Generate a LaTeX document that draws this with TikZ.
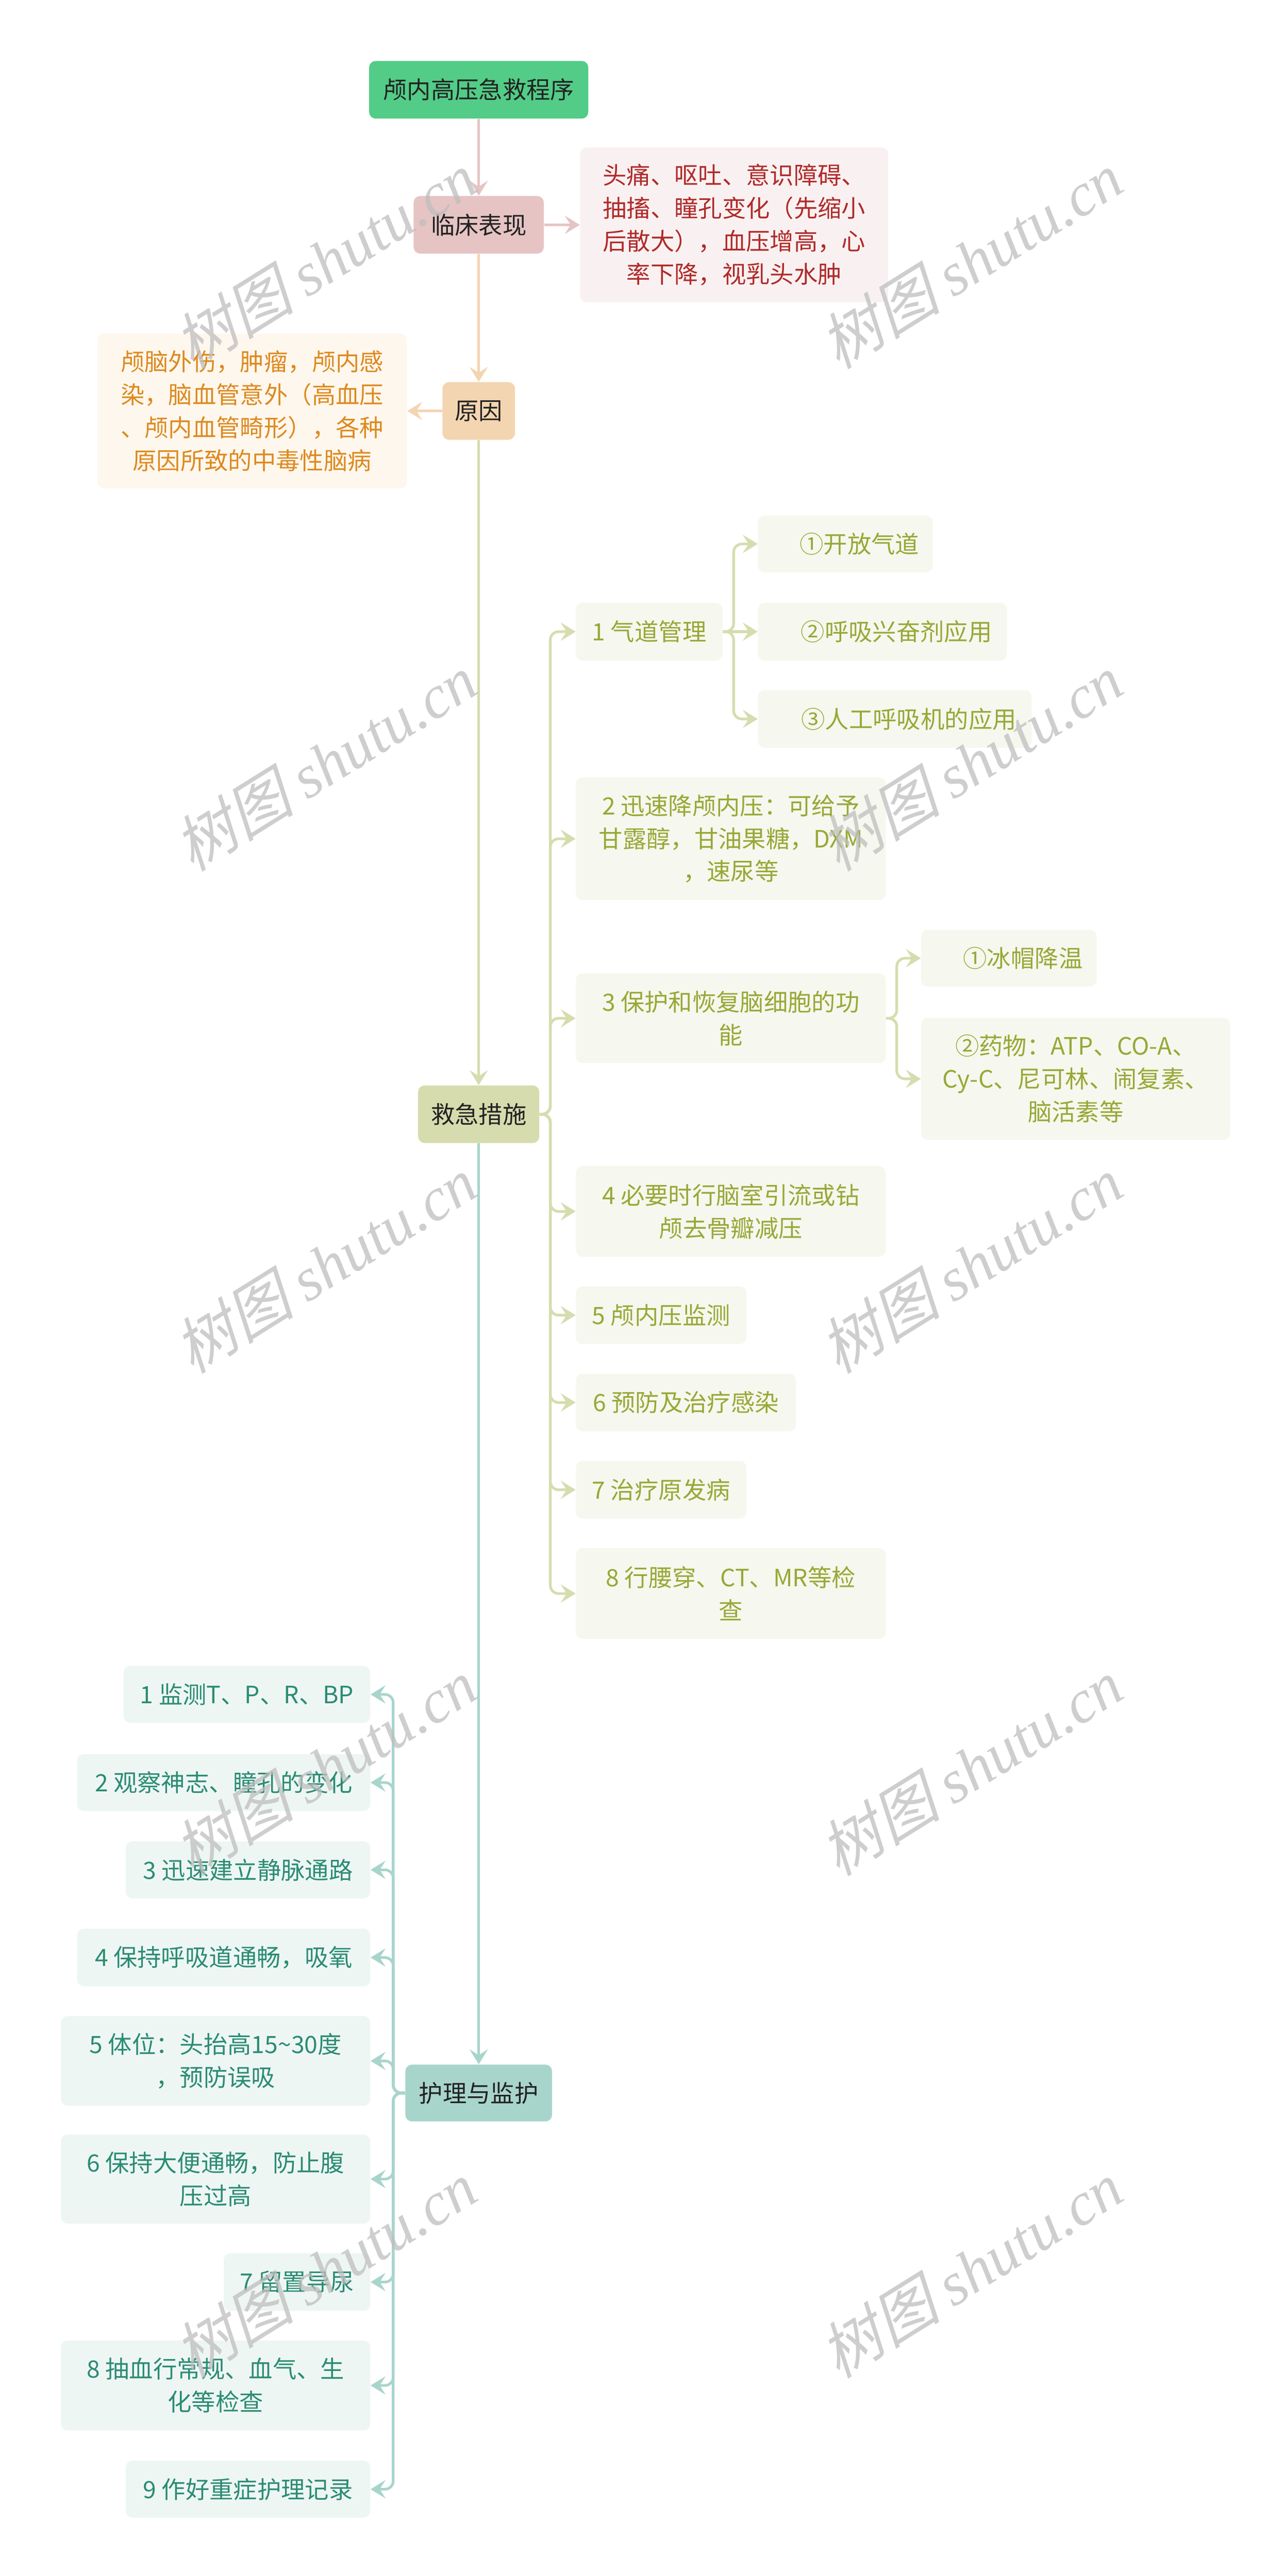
\documentclass[tikz,border=0pt]{standalone}
\usepackage{fontspec}
\setmainfont{Noto Sans CJK SC}
\newfontfamily\wmcjk[FakeSlant=0.25]{Noto Sans CJK SC}
\newfontfamily\wmlat{Liberation Serif}
\usetikzlibrary{arrows.meta}
\definecolor{rootG}{HTML}{52CC87}
\definecolor{pinkN}{HTML}{E6C4C4}
\definecolor{pinkBG}{HTML}{F9F1F1}
\definecolor{redT}{HTML}{B02A2A}
\definecolor{peachN}{HTML}{F4D5B1}
\definecolor{peachBG}{HTML}{FEF7EE}
\definecolor{orangeT}{HTML}{DD8A1F}
\definecolor{oliveN}{HTML}{D7DCAE}
\definecolor{oliveBG}{HTML}{F6F7EE}
\definecolor{oliveT}{HTML}{98A837}
\definecolor{tealN}{HTML}{A8D5CB}
\definecolor{tealBG}{HTML}{EEF6F4}
\definecolor{tealT}{HTML}{2B8C73}
\definecolor{darkT}{HTML}{222222}
\definecolor{wmG}{HTML}{BEBEBE}
\tikzset{
  box/.style={rounded corners=4pt, inner sep=0pt, align=center, text=darkT,
    font=\fontsize{14.5pt}{20pt}\selectfont},
  rbox/.style={box, fill=pinkBG, text=redT},
  obox/.style={box, fill=peachBG, text=orangeT},
  gbox/.style={box, fill=oliveBG, text=oliveT},
  tbox/.style={box, fill=tealBG, text=tealT},
  conn/.style={line width=1.6pt, -{Stealth[length=9pt,width=11pt,inset=3.5pt]}},
  branch/.style={conn, rounded corners=5pt},
  wm/.style={text=wmG, text opacity=0.75, rotate=32, font=\fontsize{37pt}{40pt}\selectfont},
}
\begin{document}
\begin{tikzpicture}[x=1pt,y=-1pt]
\useasboundingbox (0,0) rectangle (779,1564);
\fill[white] (0,0) rectangle (779,1564);

% main nodes
\node[box, fill=rootG, minimum width=133pt, minimum height=35pt] (root) at (290.5,54.5) {颅内高压急救程序};
\node[box, fill=pinkN, minimum width=79pt, minimum height=35pt] (clin) at (290.5,136.5) {临床表现};
\node[rbox, minimum width=187pt, minimum height=94pt] (clinT) at (445.5,136.5) {头痛、呕吐、意识障碍、\\抽搐、瞳孔变化（先缩小\\后散大），血压增高，心\\率下降，视乳头水肿};
\node[box, fill=peachN, minimum width=44pt, minimum height=35pt] (cause) at (290.5,249.5) {原因};
\node[obox, minimum width=188pt, minimum height=94pt] (causeT) at (153,249.5) {颅脑外伤，肿瘤，颅内感\\染，脑血管意外（高血压\\、颅内血管畸形），各种\\原因所致的中毒性脑病};
\node[box, fill=oliveN, minimum width=73.5pt, minimum height=35pt] (rescue) at (290.5,676.5) {救急措施};
\node[box, fill=tealN, minimum width=89pt, minimum height=34.5pt] (care) at (290.5,1270.75) {护理与监护};

% rescue children
\node[gbox, minimum width=89pt, minimum height=35pt] (r1) at (394,383.5) {1 气道管理};
\node[gbox, minimum width=106pt, minimum height=34.5pt] (a1) at (513,330.25) {\hspace*{17pt}①开放气道};
\node[gbox, minimum width=151pt, minimum height=35pt] (a2) at (535.5,383.5) {\hspace*{17pt}②呼吸兴奋剂应用};
\node[gbox, minimum width=166pt, minimum height=35pt] (a3) at (543,436.5) {\hspace*{17pt}③人工呼吸机的应用};
\node[gbox, minimum width=188pt, minimum height=74.5pt] (r2) at (443.5,509.25) {2 迅速降颅内压：可给予\\甘露醇，甘油果糖，DXM\\，速尿等};
\node[gbox, minimum width=188pt, minimum height=54.5pt] (r3) at (443.5,618.25) {3 保护和恢复脑细胞的功\\能};
\node[gbox, minimum width=106.5pt, minimum height=34.5pt] (p1) at (612.25,581.75) {\hspace*{17pt}①冰帽降温};
\node[gbox, minimum width=187.5pt, minimum height=74pt] (p2) at (652.75,655) {②药物：ATP、CO-A、\\Cy-C、尼可林、闹复素、\\脑活素等};
\node[gbox, minimum width=188pt, minimum height=55pt] (r4) at (443.5,735.5) {4 必要时行脑室引流或钻\\颅去骨瓣减压};
\node[gbox, minimum width=103.5pt, minimum height=35pt] (r5) at (401.25,798.5) {5 颅内压监测};
\node[gbox, minimum width=133.5pt, minimum height=35pt] (r6) at (416.25,851.5) {6 预防及治疗感染};
\node[gbox, minimum width=103.5pt, minimum height=35pt] (r7) at (401.25,904.5) {7 治疗原发病};
\node[gbox, minimum width=188pt, minimum height=55pt] (r8) at (443.5,967.5) {8 行腰穿、CT、MR等检\\查};

% care children
\node[tbox, minimum width=149.7pt, minimum height=34.5pt] (t1) at (149.85,1028.75) {1 监测T、P、R、BP};
\node[tbox, minimum width=177.9pt, minimum height=34.5pt] (t2) at (135.75,1082.25) {2 观察神志、瞳孔的变化};
\node[tbox, minimum width=148.4pt, minimum height=34.5pt] (t3) at (150.5,1135.25) {3 迅速建立静脉通路};
\node[tbox, minimum width=177.9pt, minimum height=35pt] (t4) at (135.75,1188.5) {4 保持呼吸道通畅，吸氧};
\node[tbox, minimum width=187.7pt, minimum height=54.5pt] (t5) at (130.85,1251.25) {5 体位：头抬高15\textasciitilde30度\\，预防误吸};
\node[tbox, minimum width=187.7pt, minimum height=54pt] (t6) at (130.85,1323) {6 保持大便通畅，防止腹\\压过高};
\node[tbox, minimum width=88.9pt, minimum height=35pt] (t7) at (180.25,1385.5) {7 留置导尿};
\node[tbox, minimum width=187.7pt, minimum height=54.6pt] (t8) at (130.85,1448.3) {8 抽血行常规、血气、生\\化等检查};
\node[tbox, minimum width=148.4pt, minimum height=34.6pt] (t9) at (150.5,1511.3) {9 作好重症护理记录};

% main connectors
\draw[conn, draw=pinkN] (root) -- (clin);
\draw[conn, draw=pinkN] (clin) -- (clinT);
\draw[conn, draw=peachN] (clin) -- (cause);
\draw[conn, draw=peachN] (cause) -- (causeT);
\draw[conn, draw=oliveN] (cause) -- (rescue);
\draw[conn, draw=tealN] (rescue) -- (care);

% rescue branches
\foreach \c in {r1,r2,r3,r4,r5,r6,r7,r8}
  \draw[branch, draw=oliveN] (rescue.east) -- ++(6.5,0) |- (\c.west);
\draw[branch, draw=oliveN] (r1.east) -- ++(6.5,0) |- (a1.west);
\draw[conn, draw=oliveN] (r1.east) -- (a2.west);
\draw[branch, draw=oliveN] (r1.east) -- ++(6.5,0) |- (a3.west);
\draw[branch, draw=oliveN] (r3.east) -- ++(6.5,0) |- (p1.west);
\draw[branch, draw=oliveN] (r3.east) -- ++(6.5,0) |- (p2.west);

% care branches
\foreach \c in {t1,t2,t3,t4,t5,t6,t7,t8,t9}
  \draw[branch, draw=tealN] (care.west) -- ++(-7.2,0) |- (\c.east);

% watermarks
\foreach \yy in {158,463,768,1073,1378} {
  \node[wm] at (197,\yy) {{\wmcjk 树图} {\wmlat\itshape shutu.cn}};
  \node[wm] at (589,\yy) {{\wmcjk 树图} {\wmlat\itshape shutu.cn}};
}
\end{tikzpicture}
\end{document}
